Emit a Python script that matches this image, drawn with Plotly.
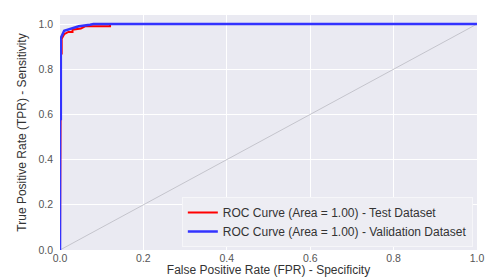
import plotly.graph_objects as go

# Test dataset ROC (red)
test_fpr = [0.0, 0.002, 0.002, 0.004, 0.004, 0.01, 0.02, 0.03, 0.03, 0.05, 0.06, 0.12, 0.12, 1.0]
test_tpr = [0.0, 0.55, 0.87, 0.87, 0.935, 0.955, 0.965, 0.965, 0.975, 0.98, 0.99, 0.99, 1.0, 1.0]

# Validation dataset ROC (blue)
val_fpr = [0.0, 0.0, 0.002, 0.002, 0.01, 0.02, 0.031, 0.045, 0.072, 0.08, 1.0]
val_tpr = [0.0, 0.58, 0.58, 0.938, 0.97, 0.975, 0.981, 0.99, 0.997, 1.0, 1.0]

chance = [0.0, 1.0]

ticks = [0.0, 0.2, 0.4, 0.6, 0.8, 1.0]
tick_text = ["0.0", "0.2", "0.4", "0.6", "0.8", "1.0"]

fig = go.Figure()
fig.add_trace(go.Scatter(x=chance, y=chance, mode="lines",
                         line=dict(color="#C4C4CC", width=1), showlegend=False))
fig.add_trace(go.Scatter(x=test_fpr, y=test_tpr, mode="lines",
                         line=dict(color="red", width=2),
                         name="ROC Curve (Area = 1.00) - Test Dataset"))
fig.add_trace(go.Scatter(x=val_fpr, y=val_tpr, mode="lines",
                         line=dict(color="#3333FF", width=2.5),
                         name="ROC Curve (Area = 1.00) - Validation Dataset"))

fig.update_layout(
    width=485, height=280,
    margin=dict(l=60, r=8, t=15, b=30),
    paper_bgcolor="white",
    plot_bgcolor="#EAEAF2",
    font=dict(family="Liberation Sans, Arial, sans-serif", size=10.5, color="#555"),
    legend=dict(x=0.99, y=0.013, xanchor="right", yanchor="bottom",
                bgcolor="#EDEDF3", bordercolor="#F6F6F9", borderwidth=1,
                font=dict(size=12, color="#333")),
    xaxis=dict(range=[0, 1.0], tickvals=ticks, ticktext=tick_text,
               showgrid=True, gridcolor="white", gridwidth=1, zeroline=False,
               showline=False, ticks="", automargin=False,
               title=dict(text="False Positive Rate (FPR) - Specificity",
                          font=dict(size=12, color="#333"), standoff=1)),
    yaxis=dict(range=[0, 1.04], tickvals=ticks, ticktext=tick_text,
               showgrid=True, gridcolor="white", gridwidth=1, zeroline=False,
               showline=False, ticks="", automargin=False, ticklabelstandoff=6,
               title=dict(text="True Positive Rate (TPR) - Sensitivity",
                          font=dict(size=12, color="#333"), standoff=9)),
)

fig.write_html("out.html",
               config={"displayModeBar": False},
               post_script="document.body.style.margin='0';document.body.style.padding='0';")
